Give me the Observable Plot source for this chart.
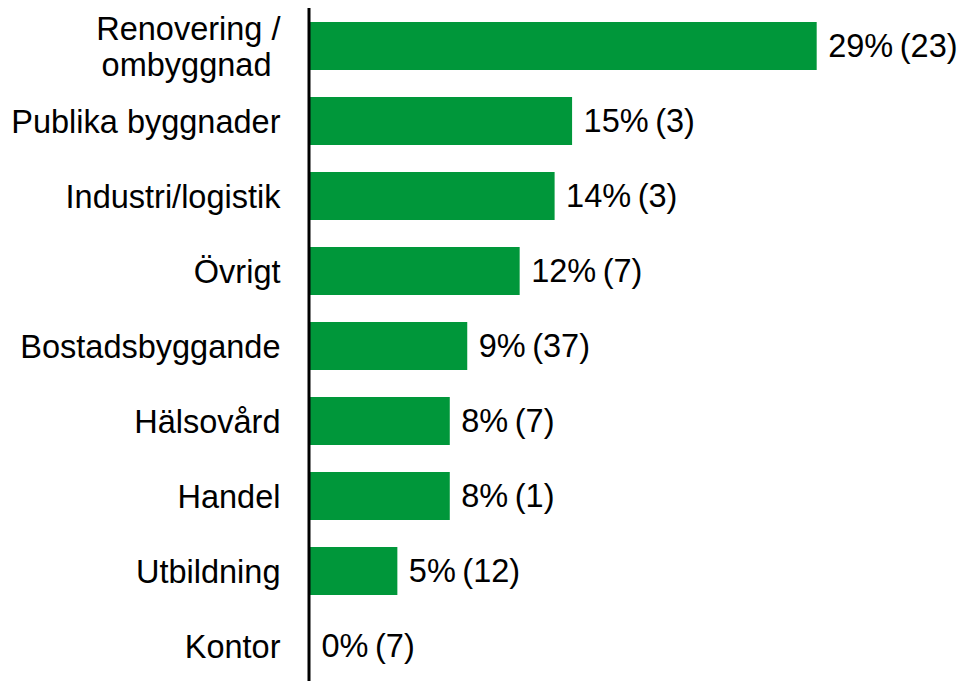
<!DOCTYPE html>
<html>
<head>
<meta charset="utf-8">
<script src="https://cdn.jsdelivr.net/npm/d3@7"></script>
<script src="https://cdn.jsdelivr.net/npm/@observablehq/plot@0.6"></script>
<style>
  html, body { margin: 0; padding: 0; background: #fff; }
  svg { display: block; }
</style>
</head>
<body>
<div id="chart"></div>
<script>
const categories = ["Renovering /\nombyggnad\u00a0", "Publika byggnader", "Industri/logistik", "Övrigt", "Bostadsbyggande", "Hälsovård", "Handel", "Utbildning", "Kontor"];
const shares = [29, 15, 14, 12, 9, 8, 8, 5, 0];
const counts = [23, 3, 3, 7, 37, 7, 1, 12, 7];

const data = categories.map((c, i) => ({cat: c, share: shares[i], n: counts[i], label: `${shares[i]}%\u2009(${counts[i]})`}));

const chart = Plot.plot({
  width: 961,
  height: 681,
  marginLeft: 310,
  marginRight: 0,
  marginTop: 8,
  marginBottom: 0,
  style: {fontFamily: "'Liberation Sans', Arial, sans-serif", background: "#fff"},
  x: {domain: [0, 37.26], axis: null},
  y: {domain: categories, range: [8.44, 684.56], paddingInner: 0.36, paddingOuter: 0.18, axis: null},
  marks: [
    Plot.barX(data, {x: "share", y: "cat", fill: "#00973a"}),
    Plot.ruleX([0], {stroke: "#000", strokeWidth: 3, dx: -1.5}),
    Plot.text(data, {x: 0, y: "cat", text: "cat", textAnchor: "end", dx: -30, fontSize: 32.5, lineHeight: 1.1, fill: "#000"}),
    Plot.text(data, {x: "share", y: "cat", text: "label", textAnchor: "start", dx: 11, fontSize: 32.5, fill: "#000"})
  ]
});
document.getElementById("chart").appendChild(chart);
</script>
</body>
</html>
